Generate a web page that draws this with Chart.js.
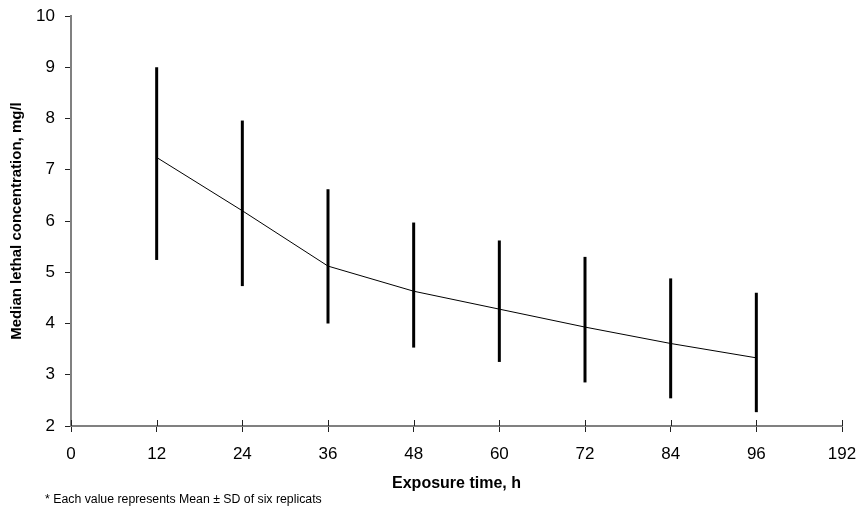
<!DOCTYPE html>
<html>
<head>
<meta charset="utf-8">
<script src="https://cdn.jsdelivr.net/npm/chart.js@4/dist/chart.umd.min.js"></script>
<style>
html,body{margin:0;padding:0;background:#fff;}
#wrap{position:relative;width:862px;height:512px;}
</style>
</head>
<body>
<div id="wrap"><canvas id="c" width="862" height="512"></canvas></div>
<script>
const categories = ['0','12','24','36','48','60','72','84','96','192'];
const meanValues = [null, 7.24, 6.20, 5.12, 4.63, 4.28, 3.93, 3.61, 3.33, null];
const upperValues = [null, 9.00, 7.96, 6.62, 5.97, 5.62, 5.30, 4.88, 4.60, null];
const lowerValues = [null, 5.24, 4.73, 4.00, 3.53, 3.25, 2.85, 2.54, 2.27, null];
const yTicks = [2,3,4,5,6,7,8,9,10];
const xTitle = 'Exposure time, h';
const yTitle = 'Median lethal concentration, mg/l';
const footnote = '* Each value represents Mean \u00b1 SD of six replicats';

const FONT = '"Liberation Sans", Arial, sans-serif';

const errorBars = {
  id: 'errorBars',
  afterDatasetsDraw(chart) {
    const {ctx, scales: {x, y}} = chart;
    ctx.save();
    ctx.strokeStyle = '#000';
    ctx.lineWidth = 3;
    for (let i = 0; i < categories.length; i++) {
      if (upperValues[i] == null) continue;
      const px = x.getPixelForValue(i);
      ctx.beginPath();
      ctx.moveTo(px, y.getPixelForValue(upperValues[i]));
      ctx.lineTo(px, y.getPixelForValue(lowerValues[i]));
      ctx.stroke();
    }
    ctx.restore();
  },
  afterDraw(chart) {
    const {ctx, scales: {x}} = chart;
    ctx.save();
    ctx.strokeStyle = '#222';
    ctx.lineWidth = 1;
    for (let i = 0; i < categories.length; i++) {
      const px = Math.round(x.getPixelForValue(i)) + 0.5;
      ctx.beginPath();
      ctx.moveTo(px, x.top - 6);
      ctx.lineTo(px, x.top);
      ctx.stroke();
    }
    ctx.fillStyle = '#000';
    ctx.font = '12.3px ' + FONT;
    ctx.textBaseline = 'middle';
    ctx.textAlign = 'left';
    ctx.fillText(footnote, 45, 500);
    ctx.restore();
  }
};

new Chart(document.getElementById('c'), {
  type: 'line',
  data: {
    labels: categories,
    datasets: [{
      data: meanValues,
      borderColor: '#000',
      borderWidth: 1,
      pointRadius: 0,
      tension: 0,
      fill: false
    }]
  },
  options: {
    responsive: false,
    animation: false,
    devicePixelRatio: 1,
    layout: {padding: {left: 0, top: 16, right: 20, bottom: 0}},
    plugins: {legend: {display: false}, tooltip: {enabled: false}},
    scales: {
      x: {
        type: 'category',
        offset: false,
        grid: {display: true, drawOnChartArea: false, drawTicks: true, tickLength: 6, color: '#222', lineWidth: 1},
        border: {display: true, color: '#808080', width: 2},
        ticks: {color: '#000', font: {family: FONT, size: 17}, padding: 12, maxRotation: 0, autoSkip: false},
        title: {display: true, text: xTitle, color: '#000', font: {family: FONT, size: 16, weight: 'bold'}, padding: {top: 4, bottom: 19}},
        afterFit(scale) { scale.height = 86; scale.paddingLeft = 0; scale.paddingRight = 0; }
      },
      y: {
        min: 2, max: 10,
        afterBuildTicks(scale) { scale.ticks = yTicks.map(v => ({value: v})); },
        grid: {display: true, drawOnChartArea: false, drawTicks: true, tickLength: 6, color: '#222', lineWidth: 1},
        border: {display: true, color: '#808080', width: 2},
        ticks: {color: '#000', font: {family: FONT, size: 17}, padding: 10},
        title: {display: true, text: yTitle, color: '#000', font: {family: FONT, size: 15, weight: 'bold'}, padding: {top: 8, bottom: 0}},
        afterFit(scale) { scale.width = 71; scale.paddingTop = 0; scale.paddingBottom = 0; }
      }
    }
  },
  plugins: [errorBars]
});
</script>
</body>
</html>
